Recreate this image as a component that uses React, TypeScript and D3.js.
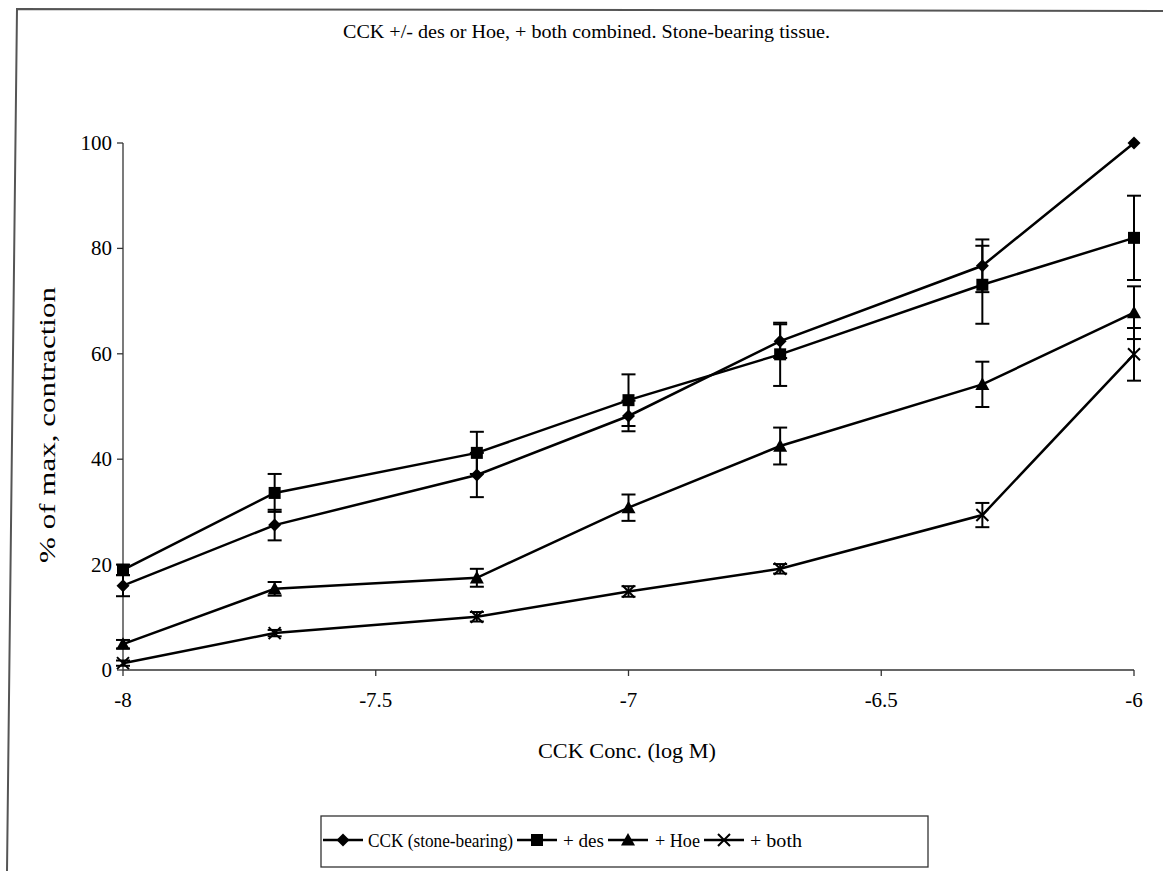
import React from "react";
import * as d3 from "d3";

const xValues = [-8, -7.7, -7.3, -7, -6.7, -6.3, -6];
const cckValues = [16, 27.5, 37, 48.2, 62.4, 76.7, 100];
const cckErrors = [2, 2.9, 4.2, 2.9, 3.2, 5, 0];
const desValues = [19, 33.6, 41.2, 51.2, 59.9, 73.1, 82];
const desErrors = [1, 3.6, 4, 4.9, 6, 7.4, 8];
const hoeValues = [4.9, 15.4, 17.5, 30.8, 42.5, 54.2, 67.8];
const hoeErrors = [0.8, 1.3, 1.7, 2.5, 3.5, 4.3, 5];
const bothValues = [1.3, 7, 10.1, 14.9, 19.2, 29.4, 59.9];
const bothErrors = [0.5, 0.6, 0.9, 1, 0.9, 2.3, 5];

const seriesNames = ["CCK (stone-bearing)", "+ des", "+ Hoe", "+ both"];
const markerTypes = ["diamond", "square", "triangle", "cross"];
const xTicks = [-8, -7.5, -7, -6.5, -6];
const yTicks = [0, 20, 40, 60, 80, 100];

const title = "CCK +/- des or Hoe, + both combined. Stone-bearing tissue.";
const xLabel = "CCK Conc. (log M)";
const yLabel = "% of max, contraction";

const series = [
  { name: seriesNames[0], marker: markerTypes[0], values: cckValues, errors: cckErrors },
  { name: seriesNames[1], marker: markerTypes[1], values: desValues, errors: desErrors },
  { name: seriesNames[2], marker: markerTypes[2], values: hoeValues, errors: hoeErrors },
  { name: seriesNames[3], marker: markerTypes[3], values: bothValues, errors: bothErrors },
];

const FONT = "'Times New Roman', Tinos, 'Liberation Serif', 'DejaVu Serif', 'Noto Serif', serif";
const ts = (size: number): React.CSSProperties => ({ fontFamily: FONT, fontSize: size });

function Marker({ type, x, y }: { type: string; x: number; y: number }) {
  if (type === "diamond") {
    const s = 6.5;
    return <path d={`M${x},${y - s}L${x + s},${y}L${x},${y + s}L${x - s},${y}Z`} fill="#000" />;
  }
  if (type === "square") {
    const s = 6;
    return <rect x={x - s} y={y - s} width={2 * s} height={2 * s} fill="#000" />;
  }
  if (type === "triangle") {
    const s = 7;
    return <path d={`M${x},${y - s}L${x + s},${y + s * 0.8}L${x - s},${y + s * 0.8}Z`} fill="#000" />;
  }
  const s = 6;
  return (
    <path
      d={`M${x - s},${y - s}L${x + s},${y + s}M${x + s},${y - s}L${x - s},${y + s}`}
      stroke="#000"
      strokeWidth={2}
      fill="none"
    />
  );
}

export default function App() {
  const x = d3.scaleLinear().domain([-8, -6]).range([123, 1134]);
  const y = d3.scaleLinear().domain([0, 100]).range([670, 143]);
  const line = d3
    .line<number>()
    .x((_, i) => x(xValues[i]))
    .y((d) => y(d));

  const legendItems = [
    { lx: 323, tx: 368, tw: 145 },
    { lx: 517, tx: 563, tw: 41 },
    { lx: 608, tx: 655, tw: 45 },
    { lx: 704, tx: 750, tw: 52 },
  ];

  return (
    <svg
      width={1163}
      height={871}
      style={{ position: "absolute", left: 0, top: 0, background: "#fff" }}
    >
      <rect x={0} y={0} width={1163} height={871} fill="#fff" />
      <path d="M7,871L17,9L1163,11" fill="none" stroke="#555" strokeWidth={2} />

      <text
        x={343}
        y={38}
        style={ts(19)}
        textLength={487}
        lengthAdjust="spacingAndGlyphs"
        fill="#000"
      >
        {title}
      </text>

      <line x1={x(-8)} x2={x(-8)} y1={y(0)} y2={y(100)} stroke="#333" strokeWidth={1.3} />
      <line x1={x(-8)} x2={x(-6)} y1={y(0)} y2={y(0)} stroke="#333" strokeWidth={1.3} />
      {yTicks.map((t) => (
        <g key={"yt" + t}>
          <line x1={x(-8) - 6} x2={x(-8)} y1={y(t)} y2={y(t)} stroke="#333" strokeWidth={1.3} />
          <text x={x(-8) - 11} y={y(t) + 7} textAnchor="end" style={ts(21)} fill="#000">
            {t}
          </text>
        </g>
      ))}
      {xTicks.map((t) => (
        <g key={"xt" + t}>
          <line x1={x(t)} x2={x(t)} y1={y(0)} y2={y(0) + 6} stroke="#333" strokeWidth={1.3} />
          <text x={x(t)} y={707} textAnchor="middle" style={ts(21)} fill="#000">
            {t}
          </text>
        </g>
      ))}

      <text
        x={538}
        y={758}
        style={ts(20)}
        textLength={178}
        lengthAdjust="spacingAndGlyphs"
        fill="#000"
      >
        {xLabel}
      </text>
      <text
        transform={`translate(55,563) rotate(-90)`}
        style={ts(23)}
        textLength={276}
        lengthAdjust="spacingAndGlyphs"
        fill="#000"
      >
        {yLabel}
      </text>

      {series.map((s, si) =>
        s.values.map((v, i) =>
          s.errors[i] > 0 ? (
            <g key={`e${si}-${i}`} stroke="#000" strokeWidth={2}>
              <line x1={x(xValues[i])} x2={x(xValues[i])} y1={y(v - s.errors[i])} y2={y(v + s.errors[i])} />
              <line x1={x(xValues[i]) - 7} x2={x(xValues[i]) + 7} y1={y(v - s.errors[i])} y2={y(v - s.errors[i])} />
              <line x1={x(xValues[i]) - 7} x2={x(xValues[i]) + 7} y1={y(v + s.errors[i])} y2={y(v + s.errors[i])} />
            </g>
          ) : null
        )
      )}

      {series.map((s, si) => (
        <path key={"l" + si} d={line(s.values) || ""} fill="none" stroke="#000" strokeWidth={2.5} />
      ))}
      {series.map((s, si) =>
        s.values.map((v, i) => <Marker key={`m${si}-${i}`} type={s.marker} x={x(xValues[i])} y={y(v)} />)
      )}

      <rect x={321} y={816} width={607} height={51} fill="#fff" stroke="#333" strokeWidth={1.3} />
      {series.map((s, si) => (
        <g key={"lg" + si}>
          <line x1={legendItems[si].lx} x2={legendItems[si].lx + 40} y1={840} y2={840} stroke="#000" strokeWidth={2.5} />
          <Marker type={s.marker} x={legendItems[si].lx + 20} y={840} />
          <text
            x={legendItems[si].tx}
            y={847}
            style={ts(19)}
            textLength={legendItems[si].tw}
            lengthAdjust="spacingAndGlyphs"
            fill="#000"
          >
            {s.name}
          </text>
        </g>
      ))}
    </svg>
  );
}
